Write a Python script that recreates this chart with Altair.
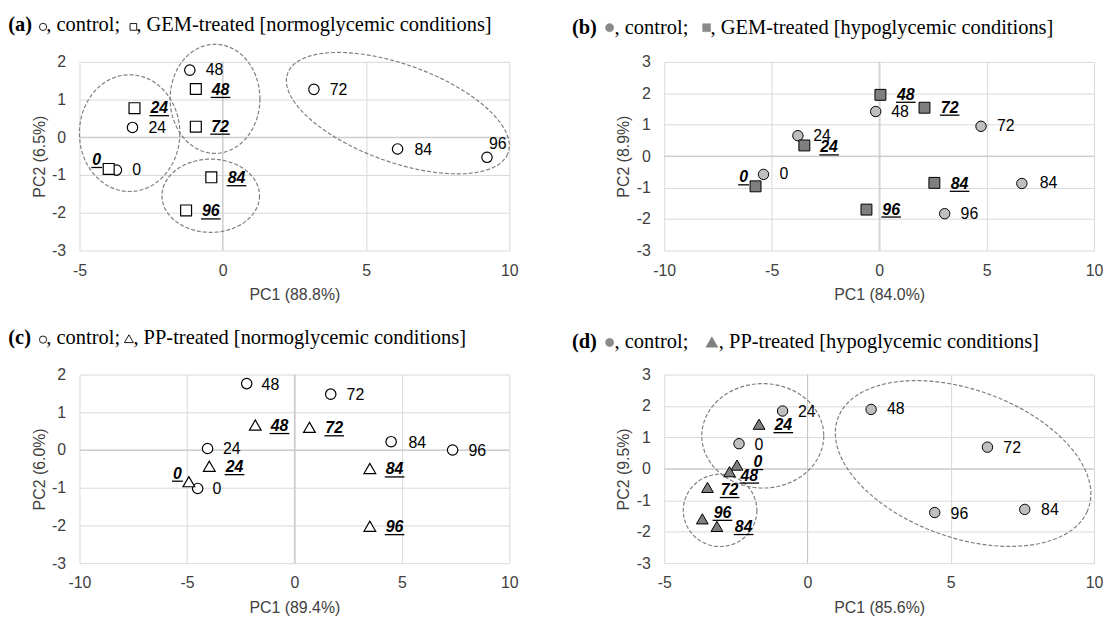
import math
import pandas as pd
import altair as alt

SANS = "Liberation Sans"
SERIF = "Liberation Serif"

W, H = 433, 190          # plot area of every panel
HS, VS = 156, 125        # gaps between plot areas
TITLE_SIZE = 20.6
TXT = 16

times = [0, 24, 48, 72, 84, 96]

# ---------------- data (PC1, PC2) ----------------
a_ctrl_x = [-3.71, -3.15, -1.15, 3.18, 6.10, 9.22]
a_ctrl_y = [-0.87, 0.26, 1.78, 1.27, -0.31, -0.53]
a_trt_x = [-3.98, -3.08, -0.94, -0.94, -0.40, -1.28]
a_trt_y = [-0.84, 0.77, 1.28, 0.28, -1.06, -1.94]

b_ctrl_x = [-5.38, -3.78, -0.16, 4.74, 6.64, 3.05]
b_ctrl_y = [-0.58, 0.65, 1.42, 0.95, -0.87, -1.83]
b_trt_x = [-5.75, -3.48, 0.06, 2.11, 2.57, -0.59]
b_trt_y = [-0.96, 0.34, 1.95, 1.54, -0.85, -1.70]

c_ctrl_x = [-4.50, -4.04, -2.22, 1.69, 4.50, 7.36]
c_ctrl_y = [-1.02, 0.04, 1.76, 1.48, 0.22, 0.00]
c_trt_x = [-4.91, -3.96, -1.82, 0.70, 3.51, 3.51]
c_trt_y = [-0.84, -0.43, 0.66, 0.60, -0.49, -2.02]

d_ctrl_x = [-2.39, -0.87, 2.22, 6.28, 7.58, 4.44]
d_ctrl_y = [0.80, 1.84, 1.89, 0.69, -1.29, -1.39]
d_trt_x = [-2.46, -1.69, -2.72, -3.49, -3.16, -3.67]
d_trt_y = [0.12, 1.42, -0.09, -0.59, -1.83, -1.59]

# ---------------- label placement (px from marker centre) ----------------
a_ctrl_off = [(16, 0), (16, 1), (16, 0), (16, 1), (17, 1), (2, -13)]
a_trt_off = [(-16.5, -9), (16, 0), (16, 1), (15.5, 0), (16.5, 1), (16, 1)]
b_ctrl_off = [(16, 0), (15.5, 0), (15.6, 1), (16, 0), (18, 0), (16, 0)]
b_trt_off = [(-16.5, -9), (16, 2), (16.7, 0), (16.5, 0), (16.5, 1), (16, 0)]
c_ctrl_off = [(15, 1), (15.5, 1), (15, 1), (16, 1), (17.5, 1), (16, 1)]
c_trt_off = [(-16, -8), (16.5, 1), (15.5, 1), (16, 1), (16, 1), (16, 1)]
d_ctrl_off = [(15.5, 1), (15.5, 1), (16, 0), (16, 1), (16.5, 1), (16, 1)]
d_trt_off = [(16.5, -3), (15.5, 1), (11, 4), (13.4, 2.7), (18, 0.7), (11.4, -6)]

# ---------------- dashed group ellipses ----------------
# centre in data units; semi-axes in reference pixels, angle clockwise;
# k = reference pixels per data unit (x, y) used for these measures
a_ell = [(-3.25, 0.11, 141.5, 175.5, 0), (-0.27, 1.02, 126.5, 164, 0),
         (-0.42, -1.55, 137.5, 110, 0), (6.11, 0.64, 332.8, 145.5, 21.6)]
a_ell_k = (80.73, 113.4)
d_ell = [(-1.56, 1.05, 171.5, 157.5, 0), (-3.05, -1.32, 103.5, 109, 0),
         (5.43, 0.17, 377.9, 221.2, 22.4)]
d_ell_k = (80.6, 94.83)


def ellipse_df(ells, k):
    rows = []
    kx, ky = k
    for i, (cx, cy, a, b, ang) in enumerate(ells):
        th = math.radians(ang)
        n = 120
        for j in range(n + 1):
            t = 2 * math.pi * j / n
            u, v = a * math.cos(t), b * math.sin(t)
            X = u * math.cos(th) - v * math.sin(th)
            Y = u * math.sin(th) + v * math.cos(th)
            rows.append(dict(eid=i, k=j, ex=cx + X / kx, ey=cy - Y / ky))
    return pd.DataFrame(rows)


one = pd.DataFrame({"k": [0]})


def title_layers(parts, base_y):
    out = []
    for p in parts:
        if p[0] == "txt":
            _, txt, px, bold = p
            out.append(alt.Chart(one).mark_text(
                text=txt, font=SERIF, fontSize=TITLE_SIZE, align="left",
                baseline="alphabetic", color="black",
                fontWeight="bold" if bold else "normal"
            ).encode(x=alt.value(px), y=alt.value(base_y)))
        else:
            _, shape, px, size, fill, up = p
            out.append(alt.Chart(one).mark_point(
                shape=shape, size=size, filled=True, fill=fill,
                stroke="black" if fill == "white" else fill,
                strokeWidth=0.9 if fill == "white" else 0.5, opacity=1
            ).encode(x=alt.value(px), y=alt.value(base_y - up)))
    return out


def panel(xdom, xticks, ydom, yticks, xtitle, ytitle, ctrl, trt, ctrl_off,
          trt_off, trt_shape, hypo, ells, ell_k, tparts, title_y):
    sx = W / (xdom[1] - xdom[0])
    sy = H / (ydom[1] - ydom[0])
    rows = []
    for series, (xs, ys), offs in (("control", ctrl, ctrl_off),
                                   ("treated", trt, trt_off)):
        for t, x, y, (dx, dy) in zip(times, xs, ys, offs):
            lab = str(t)
            lx = x + dx / sx
            ly = y - dy / sy
            w = len(lab) * 0.556 * TXT
            rows.append(dict(series=series, lab=lab, x=x, y=y, lx=lx, ly=ly,
                             ux1=lx - 1 / sx, ux2=lx + (w + 1) / sx,
                             uy=ly - 7.5 / sy))
    df = pd.DataFrame(rows)
    ctrl_df = df[df.series == "control"]
    trt_df = df[df.series == "treated"]

    xsc = alt.Scale(domain=list(xdom), nice=False, zero=False)
    ysc = alt.Scale(domain=list(ydom), nice=False, zero=False)
    xaxis = alt.Axis(values=xticks, grid=True, gridColor="#d9d9d9", gridWidth=1,
                     domain=False, ticks=False, tickSize=0, labelFont=SANS,
                     labelFontSize=TXT, labelColor="#404040", labelPadding=12,
                     labelExpr="'' + datum.value", labelOverlap=False,
                     labelFlush=False, title=xtitle, titleFont=SANS,
                     titleFontSize=TXT, titleColor="#404040",
                     titleFontWeight="normal", titlePadding=8.5)
    yaxis = alt.Axis(values=yticks, grid=True, gridColor="#d9d9d9", gridWidth=1,
                     domain=False, ticks=False, tickSize=0, labelFont=SANS,
                     labelFontSize=TXT, labelColor="#404040", labelPadding=14,
                     labelExpr="'' + datum.value", labelOverlap=False,
                     labelFlush=False, title=ytitle, titleFont=SANS,
                     titleFontSize=TXT, titleColor="#404040",
                     titleFontWeight="normal", titlePadding=4.5)

    def X(f):
        return alt.X(f, scale=xsc, axis=xaxis)

    def Y(f):
        return alt.Y(f, scale=ysc, axis=yaxis)

    zero = pd.DataFrame({"z": [0]})
    layers = [
        alt.Chart(zero).mark_rule(color="#c6c6c6", strokeWidth=1).encode(x=X("z:Q")),
        alt.Chart(zero).mark_rule(color="#c6c6c6", strokeWidth=1).encode(y=Y("z:Q")),
    ]
    if ells:
        layers.append(alt.Chart(ellipse_df(ells, ell_k)).mark_line(
            color="#7f7f7f", strokeWidth=1.2, strokeDash=[4, 2]).encode(
            x=X("ex:Q"), y=Y("ey:Q"), detail="eid:N", order="k:Q"))
    cfill = "#bfbfbf" if hypo else "white"
    tfill = "#7f7f7f" if hypo else "white"
    tsize = 140 if trt_shape == "triangle-up" else 121
    layers += [
        alt.Chart(ctrl_df).mark_point(shape="circle", size=110, filled=True,
                                      fill=cfill, stroke="black",
                                      strokeWidth=1 if hypo else 1.2,
                                      opacity=1).encode(x=X("x:Q"), y=Y("y:Q")),
        alt.Chart(trt_df).mark_point(shape=trt_shape, size=tsize, filled=True,
                                     fill=tfill, stroke="black",
                                     strokeWidth=1 if hypo else 1.2,
                                     opacity=1).encode(x=X("x:Q"), y=Y("y:Q")),
        alt.Chart(ctrl_df).mark_text(align="left", baseline="middle", font=SANS,
                                     fontSize=TXT, color="black").encode(
            x=X("lx:Q"), y=Y("ly:Q"), text="lab:N"),
        alt.Chart(trt_df).mark_text(align="left", baseline="middle", font=SANS,
                                    fontSize=TXT, fontWeight="bold",
                                    fontStyle="italic", color="black").encode(
            x=X("lx:Q"), y=Y("ly:Q"), text="lab:N"),
        alt.Chart(trt_df).mark_rule(color="black", strokeWidth=1.3).encode(
            x=X("ux1:Q"), x2="ux2:Q", y=Y("uy:Q")),
    ]
    layers += title_layers(tparts, title_y)
    return alt.layer(*layers).properties(width=W, height=H)


GRAY_T = "#8a8a8a"
title_a = [("txt", "(a)", -71.7, True), ("sym", "circle", -36.7, 53, "white", 4.6),
           ("txt", ", control; ", -33.4, False), ("sym", "square", 54.3, 45, "white", 4.6),
           ("txt", ", GEM-treated [normoglycemic conditions]", 57.3, False)]
title_b = [("txt", "(b)", -93.0, True), ("sym", "circle", -55, 69, GRAY_T, 6),
           ("txt", ", control; ", -50, False), ("sym", "square", 42.7, 64, GRAY_T, 6),
           ("txt", ", GEM-treated [hypoglycemic conditions]", 46.7, False)]
title_c = [("txt", "(c)", -71.7, True), ("sym", "circle", -36.7, 53, "white", 4.6),
           ("txt", ", control; ", -33.4, False), ("sym", "triangle-up", 49.8, 81, "white", 5.5),
           ("txt", ", PP-treated [normoglycemic conditions]", 54.3, False)]
title_d = [("txt", "(d)", -93.0, True), ("sym", "circle", -55, 69, GRAY_T, 6),
           ("txt", ", control; ", -50, False), ("sym", "triangle-up", 48, 144, "#808080", 6.5),
           ("txt", ", PP-treated [hypoglycemic conditions]", 55, False)]

pa = panel((-5, 10), [-5, 0, 5, 10], (-3, 2), [-3, -2, -1, 0, 1, 2],
           "PC1 (88.8%)", "PC2 (6.5%)", (a_ctrl_x, a_ctrl_y), (a_trt_x, a_trt_y),
           a_ctrl_off, a_trt_off, "square", False, a_ell, a_ell_k, title_a, -30.6)
pb = panel((-10, 10), [-10, -5, 0, 5, 10], (-3, 3), [-3, -2, -1, 0, 1, 2, 3],
           "PC1 (84.0%)", "PC2 (8.9%)", (b_ctrl_x, b_ctrl_y), (b_trt_x, b_trt_y),
           b_ctrl_off, b_trt_off, "square", True, None, None, title_b, -28.4)
pc = panel((-10, 10), [-10, -5, 0, 5, 10], (-3, 2), [-3, -2, -1, 0, 1, 2],
           "PC1 (89.4%)", "PC2 (6.0%)", (c_ctrl_x, c_ctrl_y), (c_trt_x, c_trt_y),
           c_ctrl_off, c_trt_off, "triangle-up", False, None, None, title_c, -30.6)
pdd = panel((-5, 10), [-5, 0, 5, 10], (-3, 3), [-3, -2, -1, 0, 1, 2, 3],
            "PC1 (85.6%)", "PC2 (9.5%)", (d_ctrl_x, d_ctrl_y), (d_trt_x, d_trt_y),
            d_ctrl_off, d_trt_off, "triangle-up", True, d_ell, d_ell_k, title_d, -26.3)

chart = alt.concat(pa, pb, pc, pdd, columns=2,
                   spacing={"row": VS, "column": HS}, bounds="flush").properties(
    padding={"left": 0, "top": 5, "right": 0, "bottom": 0}
).configure(font=SANS, background="white").configure_view(stroke=None)

chart.save("out.html", embed_options={"renderer": "svg", "actions": False})
